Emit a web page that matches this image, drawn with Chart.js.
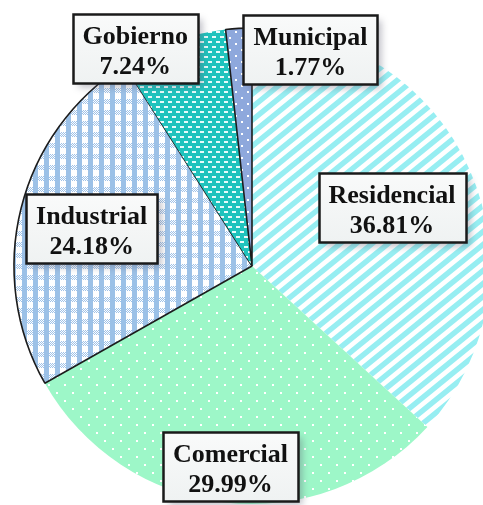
<!DOCTYPE html>
<html>
<head>
<meta charset="utf-8">
<script src="https://cdn.jsdelivr.net/npm/chart.js@4/dist/chart.umd.min.js"></script>
<style>
  html, body { margin: 0; padding: 0; background: #ffffff; overflow: hidden; width: 483px; height: 505px; }
  #wrap { position: absolute; left: 0; top: 0; width: 504px; height: 532px; }
</style>
</head>
<body>
<div id="wrap"><canvas id="c"></canvas></div>
<script>
// ---- data ----
const categories = ["Residencial", "Comercial", "Industrial", "Gobierno", "Municipal"];
const shares = [36.81, 29.99, 24.18, 7.24, 1.77];

// ---- label placement (relative to each slice: radial fraction, angular nudge in degrees) ----
const labelRadial = [0.637, 0.847, 0.692, 1.038, 0.942];
const labelTurn = [1.2, -0.4, -0.85, -8.8, 18.3];

function tile(w, h, draw) {
  const c = document.createElement('canvas');
  c.width = w; c.height = h;
  const g = c.getContext('2d');
  draw(g, w, h);
  return document.createElement('canvas').getContext('2d').createPattern(c, 'repeat');
}

// Residencial: cyan upward diagonal stripes on white
const patResid = tile(16, 13, (g, w, h) => {
  g.fillStyle = '#ffffff'; g.fillRect(0, 0, w, h);
  g.strokeStyle = '#97eef2'; g.lineWidth = 5.4;
  for (let k = -1; k <= 1; k++) {
    g.beginPath();
    g.moveTo(k * w - 3, h + 3 * h / w);
    g.lineTo(k * w + w + 3, -3 * h / w);
    g.stroke();
  }
});
// Comercial: mint with white dots
const patCom = tile(16, 16, (g, w, h) => {
  g.fillStyle = '#9df7c8'; g.fillRect(0, 0, w, h);
  g.fillStyle = '#ffffff';
  g.fillRect(0, 0, 2, 2); g.fillRect(8, 8, 2, 2);
});
// Industrial: gingham light blue
const patInd = tile(11, 11, (g, w, h) => {
  g.fillStyle = '#ffffff'; g.fillRect(0, 0, w, h);
  for (let y = 0; y < 5; y++) for (let x = 0; x < w; x++) {
    if ((x + y) % 2 === 0) { g.fillStyle = '#9fc2e8'; g.fillRect(x, y, 1, 1); }
  }
  g.fillStyle = '#9cc1e7'; g.fillRect(0, 0, 5, h);
});
// Gobierno: teal with white dashes
const patGob = tile(8, 10, (g, w, h) => {
  g.fillStyle = '#1fc3bd'; g.fillRect(0, 0, w, h);
  g.fillStyle = '#e8fbfa';
  g.fillRect(0, 1, 4, 2); g.fillRect(4, 6, 4, 2);
});
// Municipal: blue with white dots
const patMun = tile(12, 12, (g, w, h) => {
  g.fillStyle = '#8ea8dc'; g.fillRect(0, 0, w, h);
  g.fillStyle = '#ffffff';
  g.fillRect(1, 1, 2, 2); g.fillRect(7, 7, 2, 2);
});

const fills = [patResid, patCom, patInd, patGob, patMun];
const borderCols = ['rgba(0,0,0,0)', 'rgba(0,0,0,0)', '#1c1c1c', 'rgba(0,0,0,0)', '#1c1c1c'];
const borderWs = [0, 0, 1.6, 0, 1.6];

const labelPlugin = {
  id: 'boxLabels',
  afterDraw(chart) {
    const ctx = chart.ctx;
    const meta = chart.getDatasetMeta(0);
    ctx.save();
    ctx.font = 'bold 26px "Liberation Serif", "DejaVu Serif", serif';
    meta.data.forEach((arc, i) => {
      const p = arc.getProps(['x', 'y', 'startAngle', 'endAngle', 'outerRadius'], true);
      const mid = (p.startAngle + p.endAngle) / 2 + labelTurn[i] * Math.PI / 180;
      const r = p.outerRadius * labelRadial[i];
      const cx = p.x + Math.cos(mid) * r;
      const cy = p.y + Math.sin(mid) * r;
      const l1 = categories[i];
      const l2 = shares[i].toFixed(2) + '%';
      const tw = Math.max(ctx.measureText(l1).width, ctx.measureText(l2).width);
      const bw = Math.round(tw + 20), bh = 69;
      const bx = Math.round(cx - bw / 2) + 0.5, by = Math.round(cy - bh / 2) + 0.5;
      ctx.save();
      ctx.shadowColor = 'rgba(90,90,110,0.38)';
      ctx.shadowBlur = 7; ctx.shadowOffsetX = 4; ctx.shadowOffsetY = 4;
      const grd = ctx.createLinearGradient(bx, by, bx, by + bh);
      grd.addColorStop(0, '#f9fafa'); grd.addColorStop(1, '#eff2f2');
      ctx.fillStyle = grd;
      ctx.fillRect(bx, by, bw, bh);
      ctx.restore();
      ctx.lineWidth = 2.5; ctx.strokeStyle = '#1a1a1a';
      ctx.strokeRect(bx, by, bw, bh);
      ctx.fillStyle = '#111111';
      ctx.textAlign = 'center'; ctx.textBaseline = 'alphabetic';
      ctx.fillText(l1, cx, by + 29);
      ctx.fillText(l2, cx, by + 59);
    });
    ctx.restore();
  }
};

new Chart(document.getElementById('c'), {
  type: 'pie',
  data: {
    labels: categories,
    datasets: [{
      data: shares,
      backgroundColor: fills,
      borderColor: borderCols,
      borderWidth: borderWs,
      hoverOffset: 0
    }]
  },
  options: {
    responsive: true,
    maintainAspectRatio: false,
    animation: false,
    radius: 238,
    layout: { padding: 0 },
    plugins: { legend: { display: false }, tooltip: { enabled: false } }
  },
  plugins: [labelPlugin]
});
</script>
</body>
</html>
